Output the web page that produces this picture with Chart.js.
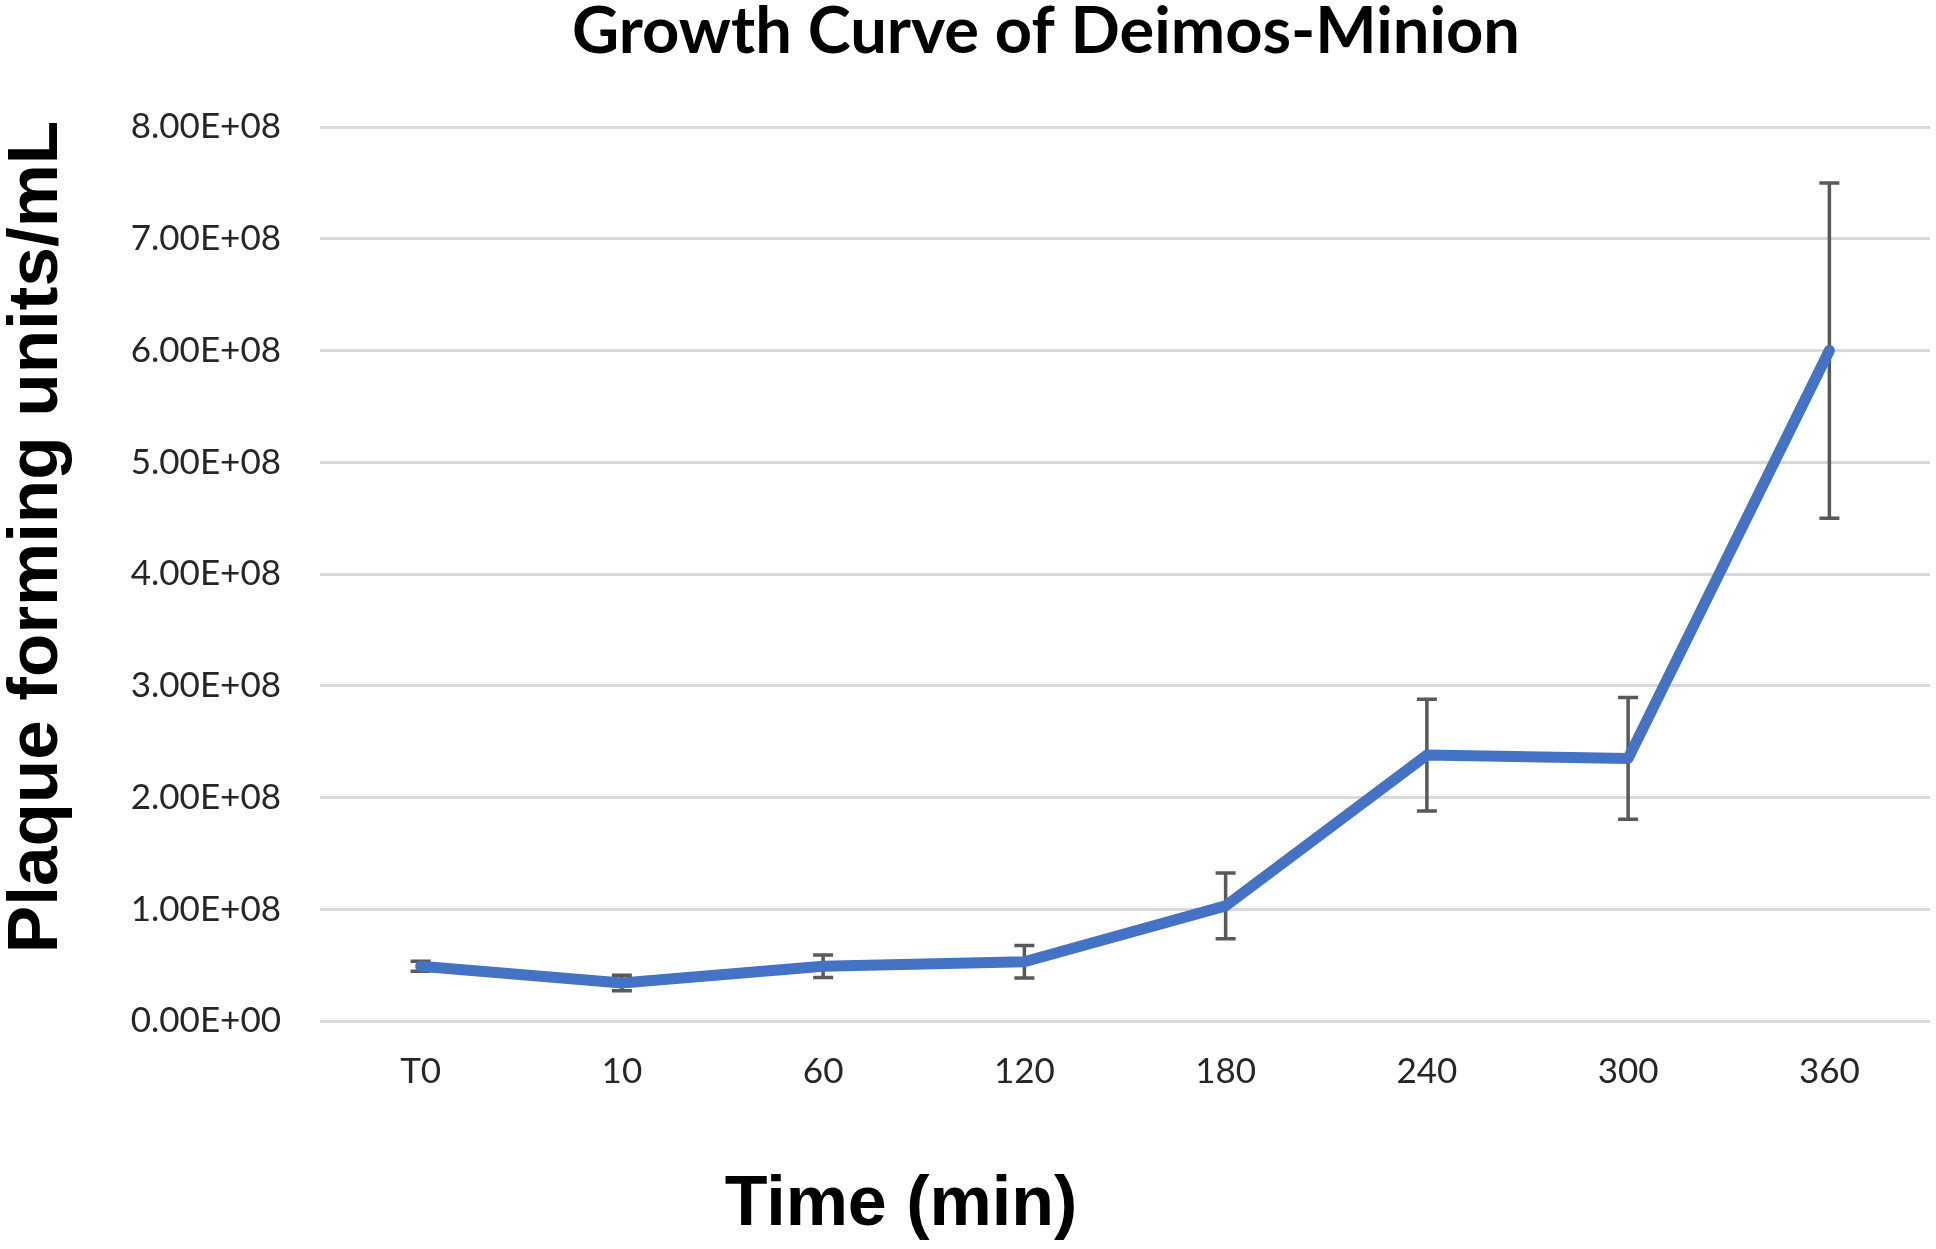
<!DOCTYPE html>
<html>
<head>
<meta charset="utf-8">
<script src="https://cdn.jsdelivr.net/npm/chart.js@4/dist/chart.umd.min.js"></script>
<style>
  html, body { margin: 0; padding: 0; background: #ffffff; }
  #wrap { width: 1936px; height: 1249px; position: relative; }
</style>
</head>
<body>
<div id="wrap"><canvas id="c"></canvas></div>
<script>
// ---- data ----
const categories = ['T0', '10', '60', '120', '180', '240', '300', '360'];
const pfuValues  = [4.9e7, 3.4e7, 4.9e7, 5.3e7, 1.03e8, 2.38e8, 2.35e8, 6.0e8];
const pfuErrors  = [0.45e7, 0.7e7, 1.0e7, 1.45e7, 2.95e7, 5.0e7, 5.45e7, 1.5e8];
const yTickMin = 0;
const yTickMax = 8e8;
const yTickStep = 1e8;

const chartTitle = 'Growth Curve of Deimos-Minion';
const xAxisTitle = 'Time (min)';
const yAxisTitle = 'Plaque forming units/mL';

function fmtSci(v) {
  const s = Number(v).toExponential(2); // e.g. 8.00e+8
  const [m, e] = s.split('e');
  const sign = e[0] === '-' ? '-' : '+';
  const d = e.replace(/[+-]/, '').padStart(2, '0');
  return m + 'E' + sign + d;
}

const tickFont = { family: "'Lato', sans-serif", size: 35 };

const errorBarPlugin = {
  id: 'errorBars',
  beforeDatasetsDraw(chart) {
    const ctx = chart.ctx;
    const xs = chart.scales.x, ys = chart.scales.y;
    ctx.save();
    ctx.strokeStyle = '#595959';
    ctx.lineWidth = 3.5;
    ctx.lineCap = 'butt';
    pfuValues.forEach((v, i) => {
      const e = pfuErrors[i];
      const x = xs.getPixelForValue(i);
      const yt = ys.getPixelForValue(v + e);
      const yb = ys.getPixelForValue(v - e);
      const hw = 10;
      ctx.beginPath();
      ctx.moveTo(x, yt); ctx.lineTo(x, yb);
      ctx.moveTo(x - hw, yt); ctx.lineTo(x + hw, yt);
      ctx.moveTo(x - hw, yb); ctx.lineTo(x + hw, yb);
      ctx.stroke();
    });
    ctx.restore();
  }
};

const titlesPlugin = {
  id: 'titles',
  afterDraw(chart) {
    const ctx = chart.ctx;
    ctx.save();
    ctx.fillStyle = '#000000';
    // main title
    ctx.font = "bold 65px 'Lato', sans-serif";
    ctx.textAlign = 'center';
    ctx.textBaseline = 'middle';
    ctx.fillText(chartTitle, 1046, 32);
    // x-axis title
    ctx.font = "bold 70px 'Liberation Sans', Arial, sans-serif";
    ctx.fillText(xAxisTitle, 901, 1206);
    // y-axis title
    ctx.translate(37, 537);
    ctx.rotate(-Math.PI / 2);
    ctx.font = "bold 71px 'Liberation Sans', Arial, sans-serif";
    ctx.fillText(yAxisTitle, 0, 0);
    ctx.restore();
  }
};

new Chart(document.getElementById('c'), {
  type: 'line',
  data: {
    labels: categories,
    datasets: [{
      label: 'PFU/mL',
      data: pfuValues,
      borderColor: '#4472C4',
      backgroundColor: '#4472C4',
      borderWidth: 11,
      pointRadius: 0,
      pointHoverRadius: 0,
      tension: 0,
      borderJoinStyle: 'round',
      borderCapStyle: 'round',
      fill: false
    }]
  },
  options: {
    responsive: true,
    maintainAspectRatio: false,
    devicePixelRatio: 1,
    animation: false,
    layout: { padding: { top: 127, left: 0, right: 6, bottom: 0 } },
    plugins: {
      legend: { display: false },
      title: { display: false },
      tooltip: { enabled: false }
    },
    scales: {
      x: {
        offset: true,
        grid: { display: false, drawTicks: false },
        border: { display: false },
        ticks: { font: tickFont, color: '#262626', padding: 30, maxRotation: 0 },
        afterFit(scale) { scale.height = 228; }
      },
      y: {
        min: yTickMin,
        max: yTickMax,
        grid: { color: '#d9d9d9', lineWidth: 3, drawTicks: false },
        border: { display: false },
        ticks: {
          stepSize: yTickStep,
          font: tickFont,
          color: '#262626',
          padding: 39,
          callback: (v) => fmtSci(v)
        },
        afterFit(scale) { scale.width = 320; }
      }
    }
  },
  plugins: [errorBarPlugin, titlesPlugin]
});
</script>
</body>
</html>
